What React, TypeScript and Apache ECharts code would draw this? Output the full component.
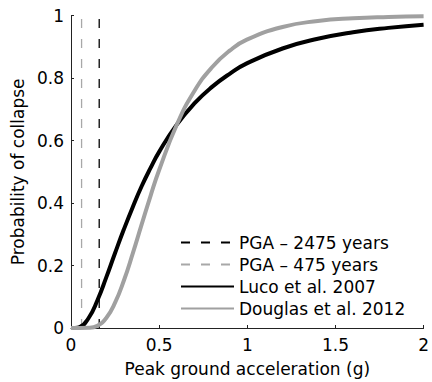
import React, { useEffect, useRef } from "react";
import * as echarts from "echarts";

const pgaX = [0, 0.02, 0.05, 0.1, 0.15, 0.2, 0.25, 0.3, 0.35, 0.4, 0.45, 0.5, 0.6, 0.7, 0.8, 0.9, 1.0, 1.2, 1.4, 1.6, 1.8, 2.0];
const lucoP = [0, 0.0001, 0.0033, 0.032, 0.089, 0.162, 0.24, 0.316, 0.387, 0.453, 0.511, 0.564, 0.651, 0.719, 0.772, 0.814, 0.848, 0.895, 0.926, 0.947, 0.961, 0.971];
const douglasP = [0, 0, 0, 0.0005, 0.0073, 0.032, 0.081, 0.152, 0.238, 0.33, 0.421, 0.506, 0.651, 0.759, 0.835, 0.888, 0.924, 0.964, 0.983, 0.9916, 0.9957, 0.998];
const pga2475 = 0.16;
const pga475 = 0.06;
const seriesNames = ["PGA – 2475 years", "PGA – 475 years", "Luco et al. 2007", "Douglas et al. 2012"];
const xAxisTitle = "Peak ground acceleration (g)";
const yAxisTitle = "Probability of collapse";

const FONT = "'DejaVu Sans', 'Liberation Sans', Arial, sans-serif";

export default function App() {
  const ref = useRef<HTMLDivElement>(null);
  useEffect(() => {
    if (!ref.current) return;
    const chart = echarts.init(ref.current, null, { renderer: "svg" });
    const fmt = (v: number) => String(Math.round(v * 10) / 10);
    chart.setOption({
      animation: false,
      textStyle: { fontFamily: FONT },
      grid: { left: 71, right: 3, top: 15.7, bottom: 51, containLabel: false },
      legend: {
        orient: "vertical",
        left: 180,
        top: 234,
        itemWidth: 53,
        itemHeight: 14,
        itemGap: 5,
        padding: 0,
        itemStyle: { opacity: 0 },
        textStyle: { fontSize: 17, lineHeight: 17, color: "#000", fontFamily: FONT, padding: [0, 0, 0, 0] },
        data: seriesNames,
      },
      xAxis: {
        type: "value",
        min: 0,
        max: 2,
        interval: 0.5,
        name: xAxisTitle,
        nameLocation: "middle",
        nameGap: 32,
        nameTextStyle: { fontSize: 17, color: "#000", fontFamily: FONT },
        axisLine: { lineStyle: { color: "#222", width: 1 } },
        axisTick: { inside: true, length: 3, lineStyle: { color: "#222" } },
        axisLabel: { fontSize: 17, color: "#000", margin: 8, formatter: fmt, fontFamily: FONT },
        splitLine: { show: false },
      },
      yAxis: {
        type: "value",
        min: 0,
        max: 1,
        interval: 0.2,
        name: yAxisTitle,
        nameLocation: "middle",
        nameGap: 44,
        nameTextStyle: { fontSize: 17, color: "#000", fontFamily: FONT },
        axisLine: { show: true, lineStyle: { color: "#222", width: 1 } },
        axisTick: { show: true, inside: true, length: 3, lineStyle: { color: "#222" } },
        axisLabel: { fontSize: 17, color: "#000", margin: 7, formatter: fmt, fontFamily: FONT },
        splitLine: { show: false },
      },
      series: [
        {
          name: seriesNames[0],
          type: "line",
          symbol: "none",
          data: [[pga2475, 0], [pga2475, 1]],
          lineStyle: { color: "#000", width: 1.3, type: [9, 11] },
          itemStyle: { color: "#000" },
        },
        {
          name: seriesNames[1],
          type: "line",
          symbol: "none",
          data: [[pga475, 0], [pga475, 1]],
          lineStyle: { color: "#a8a8a8", width: 1.3, type: [9, 11] },
          itemStyle: { color: "#a8a8a8" },
        },
        {
          name: seriesNames[2],
          type: "line",
          symbol: "none",
          smooth: true,
          data: pgaX.map((x, i) => [x, lucoP[i]]),
          lineStyle: { color: "#000", width: 4 },
          itemStyle: { color: "#000" },
        },
        {
          name: seriesNames[3],
          type: "line",
          symbol: "none",
          smooth: true,
          data: pgaX.map((x, i) => [x, douglasP[i]]),
          lineStyle: { color: "#a0a0a0", width: 4 },
          itemStyle: { color: "#a0a0a0" },
        },
      ],
    });
    return () => chart.dispose();
  }, []);
  return (
    <div
      ref={ref}
      style={{ position: "fixed", left: 0, top: 0, width: 432, height: 382, background: "#fff" }}
    />
  );
}
